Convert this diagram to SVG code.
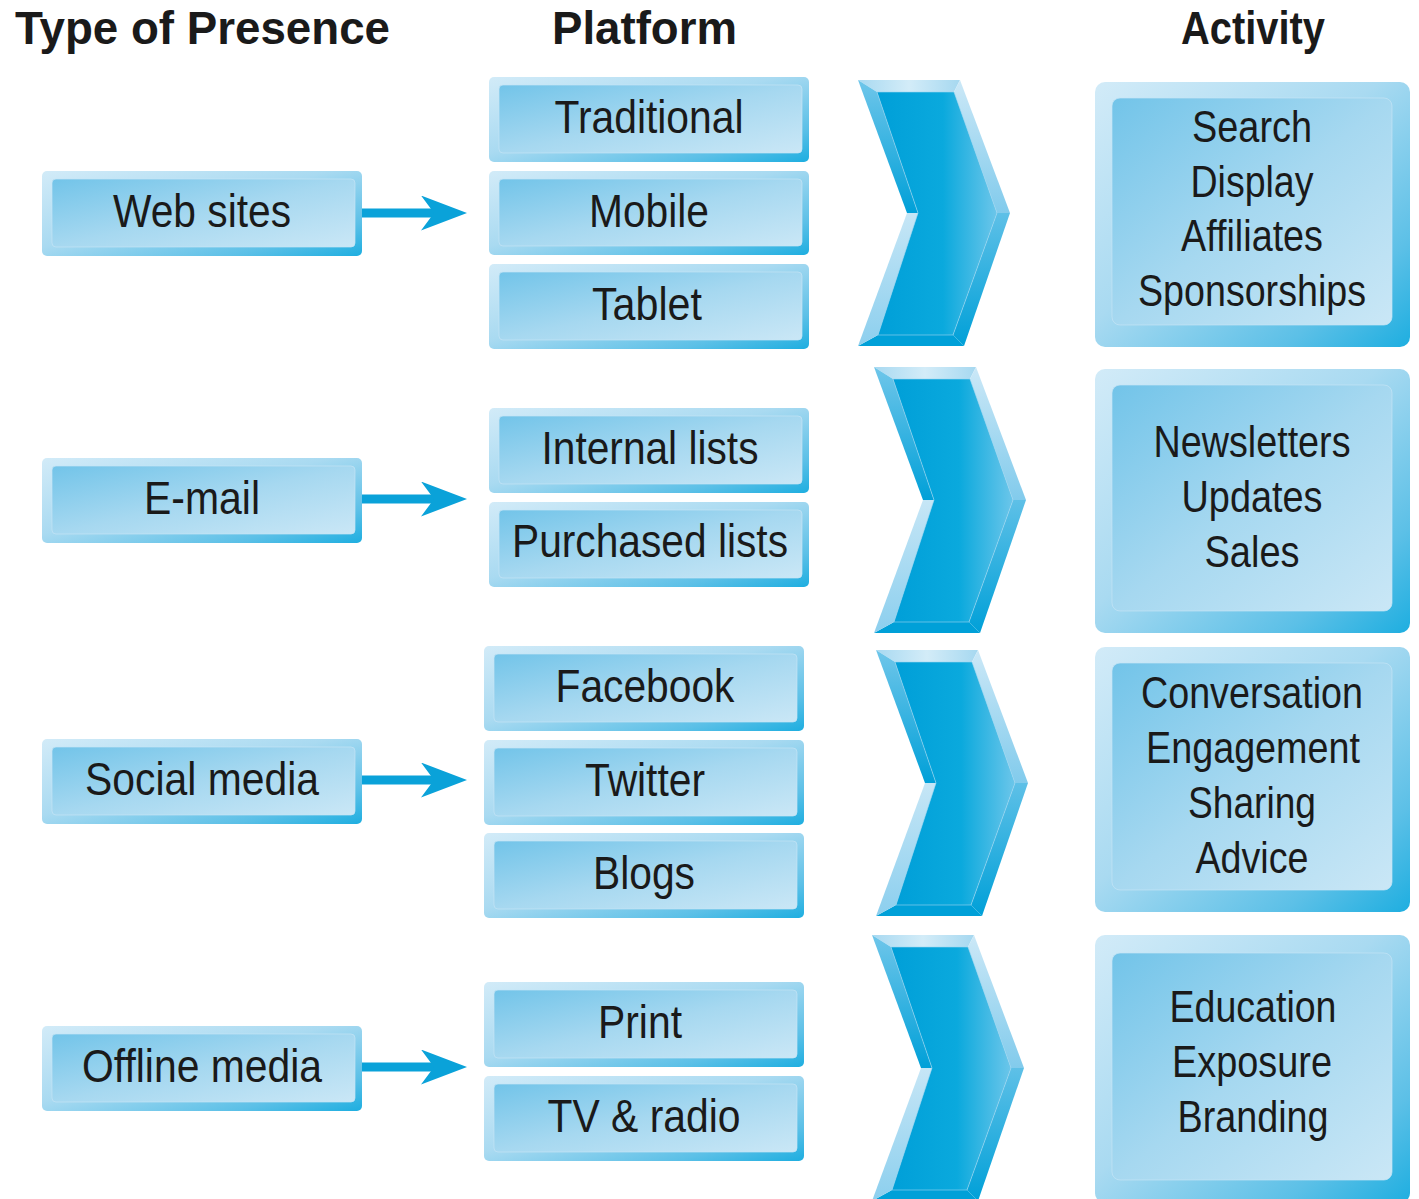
<svg xmlns="http://www.w3.org/2000/svg" xmlns:xlink="http://www.w3.org/1999/xlink" width="1419" height="1199" viewBox="0 0 1419 1199">
<style>
  .hdr { font-family: "Liberation Sans", Arial, sans-serif; font-weight: bold; font-size: 46px; fill: #1a1a1a; }
  .lbl { font-family: "Liberation Sans", Arial, sans-serif; font-size: 47px; fill: #1a1a1a; text-anchor: middle; }
  .act { font-family: "Liberation Sans", Arial, sans-serif; font-size: 44px; fill: #1a1a1a; text-anchor: middle; }
  .outer { fill: url(#gOuter); }
  .inner { fill: url(#gInner); stroke: #c4e4f5; stroke-width: 1; stroke-opacity: 0.7; }
  .conn { stroke: #0aa2d9; stroke-width: 9; fill: none; }
</style>
<defs>
  <linearGradient id="gOuter" x1="0" y1="0" x2="1" y2="1">
    <stop offset="0" stop-color="#d2ebf8"/>
    <stop offset="0.45" stop-color="#a9daf1"/>
    <stop offset="0.8" stop-color="#5cc0e7"/>
    <stop offset="1" stop-color="#1eaee0"/>
  </linearGradient>
  <linearGradient id="gInner" x1="0" y1="0" x2="1" y2="1">
    <stop offset="0" stop-color="#72c4e9"/>
    <stop offset="0.5" stop-color="#a6d8f0"/>
    <stop offset="1" stop-color="#cae7f6"/>
  </linearGradient>
  <linearGradient id="gFace" x1="0" y1="0" x2="1" y2="0">
    <stop offset="0" stop-color="#009fd8"/>
    <stop offset="0.55" stop-color="#0aa9dd"/>
    <stop offset="1" stop-color="#6cc6ea"/>
  </linearGradient>
  <linearGradient id="gTop" x1="0" y1="0" x2="1" y2="0">
    <stop offset="0" stop-color="#a8d9f1"/>
    <stop offset="0.5" stop-color="#d3ecf8"/>
    <stop offset="1" stop-color="#a6d8f0"/>
  </linearGradient>
  <linearGradient id="gUL" x1="0" y1="0" x2="0" y2="1">
    <stop offset="0" stop-color="#6fc6ea"/>
    <stop offset="1" stop-color="#00a0d8"/>
  </linearGradient>
  <linearGradient id="gLL" x1="0" y1="0" x2="0" y2="1">
    <stop offset="0" stop-color="#c6e6f6"/>
    <stop offset="1" stop-color="#8ccfee"/>
  </linearGradient>
  <linearGradient id="gUR" x1="0" y1="0" x2="0" y2="1">
    <stop offset="0" stop-color="#cbe8f7"/>
    <stop offset="1" stop-color="#82cbec"/>
  </linearGradient>
  <linearGradient id="gLR" x1="0" y1="0" x2="0" y2="1">
    <stop offset="0" stop-color="#5ec0e7"/>
    <stop offset="1" stop-color="#00a0d8"/>
  </linearGradient>
  <g id="chev">
    <polygon points="0,0 102,0 96,12 19,12" fill="url(#gTop)"/>
    <polygon points="102,0 152,133 139,133 96,12" fill="url(#gUR)"/>
    <polygon points="152,133 106,266 95,255 139,133" fill="url(#gLR)"/>
    <polygon points="106,266 0,266 20,255 95,255" fill="#00a0d8"/>
    <polygon points="0,266 49,133 60,133 20,255" fill="url(#gLL)"/>
    <polygon points="49,133 0,0 19,12 60,133" fill="url(#gUL)"/>
    <polygon points="19,12 96,12 139,133 95,255 20,255 60,133" fill="url(#gFace)" stroke="#9fd6f0" stroke-width="1" stroke-opacity="0.6"/>
  </g>
  <marker id="ah" viewBox="0 0 46 35" refX="19" refY="17.5" markerWidth="46" markerHeight="35" markerUnits="userSpaceOnUse" orient="auto">
    <path d="M0,0 L46,17.5 L0,35 L13,17.5 Z" fill="#0aa2d9"/>
  </marker>
</defs>

<rect x="0" y="0" width="1419" height="1199" fill="#ffffff"/>

<g id="headers">
  <text class="hdr" x="15" y="44" textLength="375" lengthAdjust="spacingAndGlyphs">Type of Presence</text>
  <text class="hdr" x="552" y="44" textLength="185" lengthAdjust="spacingAndGlyphs">Platform</text>
  <text class="hdr" x="1181" y="44" textLength="144" lengthAdjust="spacingAndGlyphs">Activity</text>
</g>

<g id="connectors">
  <line class="conn" x1="362" y1="213" x2="440" y2="213" marker-end="url(#ah)"/>
  <line class="conn" x1="362" y1="499" x2="440" y2="499" marker-end="url(#ah)"/>
  <line class="conn" x1="362" y1="780" x2="440" y2="780" marker-end="url(#ah)"/>
  <line class="conn" x1="362" y1="1067" x2="440" y2="1067" marker-end="url(#ah)"/>
</g>

<!-- Type of presence -->
<g id="web-sites">
  <rect class="outer" x="42" y="171" width="320" height="85" rx="5"/>
  <rect class="inner" x="52" y="179" width="303" height="68" rx="4"/>
  <text class="lbl" x="202" y="227" textLength="178" lengthAdjust="spacingAndGlyphs">Web sites</text>
</g>
<g id="e-mail">
  <rect class="outer" x="42" y="458" width="320" height="85" rx="5"/>
  <rect class="inner" x="52" y="466" width="303" height="68" rx="4"/>
  <text class="lbl" x="202" y="514" textLength="116" lengthAdjust="spacingAndGlyphs">E-mail</text>
</g>
<g id="social-media">
  <rect class="outer" x="42" y="739" width="320" height="85" rx="5"/>
  <rect class="inner" x="52" y="747" width="303" height="68" rx="4"/>
  <text class="lbl" x="202" y="795" textLength="234" lengthAdjust="spacingAndGlyphs">Social media</text>
</g>
<g id="offline-media">
  <rect class="outer" x="42" y="1026" width="320" height="85" rx="5"/>
  <rect class="inner" x="52" y="1034" width="303" height="68" rx="4"/>
  <text class="lbl" x="202" y="1082" textLength="240" lengthAdjust="spacingAndGlyphs">Offline media</text>
</g>

<!-- Platforms -->
<g id="traditional">
  <rect class="outer" x="489" y="77" width="320" height="85" rx="5"/>
  <rect class="inner" x="499" y="85" width="303" height="68" rx="4"/>
  <text class="lbl" x="649" y="133" textLength="189" lengthAdjust="spacingAndGlyphs">Traditional</text>
</g>
<g id="mobile">
  <rect class="outer" x="489" y="171" width="320" height="84" rx="5"/>
  <rect class="inner" x="499" y="179" width="303" height="67" rx="4"/>
  <text class="lbl" x="649" y="227" textLength="120" lengthAdjust="spacingAndGlyphs">Mobile</text>
</g>
<g id="tablet">
  <rect class="outer" x="489" y="264" width="320" height="85" rx="5"/>
  <rect class="inner" x="499" y="272" width="303" height="68" rx="4"/>
  <text class="lbl" x="647" y="320" textLength="110" lengthAdjust="spacingAndGlyphs">Tablet</text>
</g>
<g id="internal-lists">
  <rect class="outer" x="489" y="408" width="320" height="85" rx="5"/>
  <rect class="inner" x="499" y="416" width="303" height="68" rx="4"/>
  <text class="lbl" x="650" y="464" textLength="217" lengthAdjust="spacingAndGlyphs">Internal lists</text>
</g>
<g id="purchased-lists">
  <rect class="outer" x="489" y="502" width="320" height="85" rx="5"/>
  <rect class="inner" x="499" y="510" width="303" height="68" rx="4"/>
  <text class="lbl" x="650" y="557" textLength="276" lengthAdjust="spacingAndGlyphs">Purchased lists</text>
</g>
<g id="facebook">
  <rect class="outer" x="484" y="646" width="320" height="85" rx="5"/>
  <rect class="inner" x="494" y="654" width="303" height="68" rx="4"/>
  <text class="lbl" x="645" y="702" textLength="179" lengthAdjust="spacingAndGlyphs">Facebook</text>
</g>
<g id="twitter">
  <rect class="outer" x="484" y="740" width="320" height="85" rx="5"/>
  <rect class="inner" x="494" y="748" width="303" height="68" rx="4"/>
  <text class="lbl" x="645" y="796" textLength="120" lengthAdjust="spacingAndGlyphs">Twitter</text>
</g>
<g id="blogs">
  <rect class="outer" x="484" y="833" width="320" height="85" rx="5"/>
  <rect class="inner" x="494" y="841" width="303" height="68" rx="4"/>
  <text class="lbl" x="644" y="889" textLength="102" lengthAdjust="spacingAndGlyphs">Blogs</text>
</g>
<g id="print">
  <rect class="outer" x="484" y="982" width="320" height="85" rx="5"/>
  <rect class="inner" x="494" y="990" width="303" height="68" rx="4"/>
  <text class="lbl" x="640" y="1038" textLength="84" lengthAdjust="spacingAndGlyphs">Print</text>
</g>
<g id="tv-radio">
  <rect class="outer" x="484" y="1076" width="320" height="85" rx="5"/>
  <rect class="inner" x="494" y="1084" width="303" height="68" rx="4"/>
  <text class="lbl" x="644" y="1132" textLength="193" lengthAdjust="spacingAndGlyphs">TV &amp; radio</text>
</g>

<!-- Chevrons -->
<g id="chevron-1"><use xlink:href="#chev" href="#chev" transform="translate(858,80)"/></g>
<g id="chevron-2"><use xlink:href="#chev" href="#chev" transform="translate(874,367)"/></g>
<g id="chevron-3"><use xlink:href="#chev" href="#chev" transform="translate(876,650)"/></g>
<g id="chevron-4"><use xlink:href="#chev" href="#chev" transform="translate(872,935)"/></g>

<!-- Activities -->
<g id="activity-web">
  <rect class="outer" x="1095" y="82" width="315" height="265" rx="10"/>
  <rect class="inner" x="1112" y="98" width="280" height="227" rx="8"/>
  <text class="act" x="1252" y="142" textLength="120" lengthAdjust="spacingAndGlyphs">Search</text>
  <text class="act" x="1252" y="197" textLength="123" lengthAdjust="spacingAndGlyphs">Display</text>
  <text class="act" x="1252" y="251" textLength="142" lengthAdjust="spacingAndGlyphs">Affiliates</text>
  <text class="act" x="1252" y="306" textLength="228" lengthAdjust="spacingAndGlyphs">Sponsorships</text>
</g>
<g id="activity-email">
  <rect class="outer" x="1095" y="369" width="315" height="264" rx="10"/>
  <rect class="inner" x="1112" y="385" width="280" height="226" rx="8"/>
  <text class="act" x="1252" y="457" textLength="197" lengthAdjust="spacingAndGlyphs">Newsletters</text>
  <text class="act" x="1252" y="512" textLength="141" lengthAdjust="spacingAndGlyphs">Updates</text>
  <text class="act" x="1252" y="567" textLength="95" lengthAdjust="spacingAndGlyphs">Sales</text>
</g>
<g id="activity-social">
  <rect class="outer" x="1095" y="647" width="315" height="265" rx="10"/>
  <rect class="inner" x="1112" y="663" width="280" height="227" rx="8"/>
  <text class="act" x="1252" y="708" textLength="222" lengthAdjust="spacingAndGlyphs">Conversation</text>
  <text class="act" x="1253" y="763" textLength="214" lengthAdjust="spacingAndGlyphs">Engagement</text>
  <text class="act" x="1252" y="818" textLength="128" lengthAdjust="spacingAndGlyphs">Sharing</text>
  <text class="act" x="1252" y="873" textLength="113" lengthAdjust="spacingAndGlyphs">Advice</text>
</g>
<g id="activity-offline">
  <rect class="outer" x="1095" y="935" width="315" height="268" rx="10"/>
  <rect class="inner" x="1112" y="953" width="280" height="227" rx="8"/>
  <text class="act" x="1253" y="1022" textLength="167" lengthAdjust="spacingAndGlyphs">Education</text>
  <text class="act" x="1252" y="1077" textLength="160" lengthAdjust="spacingAndGlyphs">Exposure</text>
  <text class="act" x="1253" y="1132" textLength="151" lengthAdjust="spacingAndGlyphs">Branding</text>
</g>
</svg>
